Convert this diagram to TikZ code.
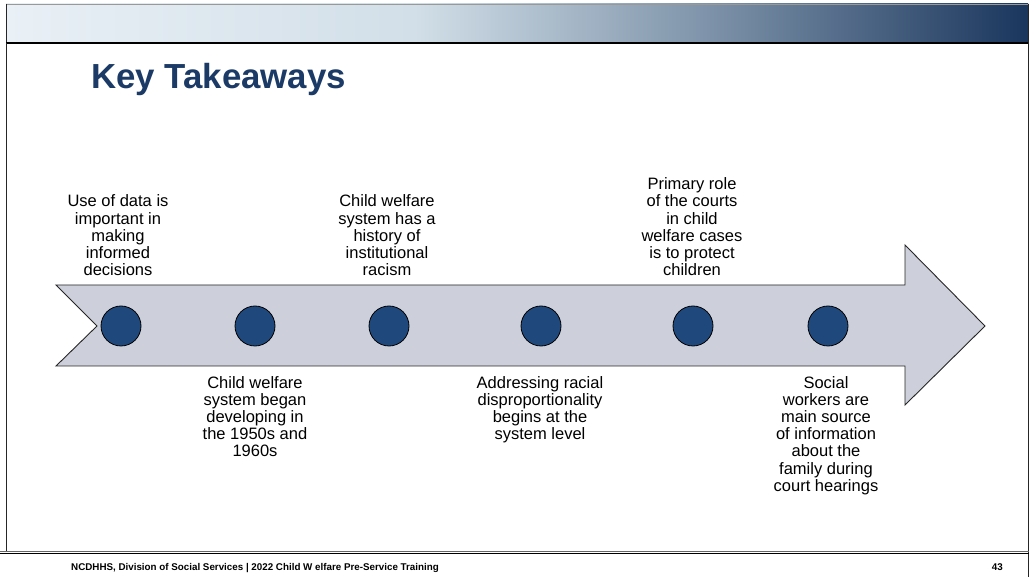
\documentclass[tikz,border=0pt]{standalone}
\usepackage{fontspec}
\setmainfont{Liberation Sans}
\definecolor{navy}{HTML}{1B3A66}
\definecolor{dotblue}{HTML}{1F497D}
\definecolor{arrowgray}{HTML}{CDD0DA}
\definecolor{bandL}{HTML}{E9F0F6}
\definecolor{bandM}{HTML}{D2DFE8}
\definecolor{bandQ}{HTML}{8095AB}
\definecolor{bandR}{HTML}{1A365D}
\pgfdeclarehorizontalshading{band}{100bp}{color(0bp)=(bandL); color(25bp)=(bandL); color(45bp)=(bandM); color(59bp)=(bandQ); color(75bp)=(bandR); color(100bp)=(bandR)}
\tikzset{
  dot/.style={circle, draw=black, fill=dotblue, minimum size=40pt, inner sep=0pt, line width=0.8pt},
  lbl/.style={align=center, font=\fontsize{16.5}{17.2}\selectfont, inner sep=0pt},
  lblabove/.style={lbl, anchor=south},
  lblbelow/.style={lbl, anchor=north},
}
\begin{document}
\begin{tikzpicture}[x=1pt, y=-1pt]
\useasboundingbox (0,0) rectangle (1029,577);
\fill[white] (0,0) rectangle (1029,577);
% top band
\shade[shading=band] (6,4) rectangle (1028,43);
\draw[black!40, line width=0.9pt] (6,4) -- (1028,4);
\draw[black!85, line width=0.9pt] (6,4) -- (6,43);
\draw[black, line width=1.5pt] (6,43) -- (1028,43);
% frame
\draw[black!85, line width=0.8pt] (6,43) -- (6,552);
\draw[black!85, line width=1pt] (1028,4) -- (1028,577);
\draw[black!60, line width=1pt] (0,551.5) -- (1029,551.5);
\draw[black, line width=1pt] (0,553.5) -- (1029,553.5);
% title
\node[anchor=base west, inner sep=0pt, text=navy, font=\fontsize{34.8}{40}\selectfont\bfseries] (title) at (91,89) {Key Takeaways};
% arrow
\draw[fill=arrowgray, draw=black!85, line width=0.9pt]
  (56,285) -- (905,285) -- (905,245) -- (985,326) -- (905,405) -- (905,366) -- (56,366) -- (97,326) -- cycle;
% dots
\node[dot] (d1) at (121,326) {};
\node[dot] (d2) at (255,326) {};
\node[dot] (d3) at (389,326) {};
\node[dot] (d4) at (541,326) {};
\node[dot] (d5) at (693,326) {};
\node[dot] (d6) at (828,326) {};
% labels
\node[lblabove] (t1) at (118,276) {Use of data is\\important in\\making\\informed\\decisions};
\node[lblbelow] (t2) at (255,376) {Child welfare\\system began\\developing in\\the 1950s and\\1960s};
\node[lblabove] (t3) at (387,276) {Child welfare\\system has a\\history of\\institutional\\racism};
\node[lblbelow] (t4) at (540,376) {Addressing racial\\disproportionality\\begins at the\\system level};
\node[lblabove] (t5) at (692,276) {Primary role\\of the courts\\in child\\welfare cases\\is to protect\\children};
\node[lblbelow] (t6) at (826,376) {Social\\workers are\\main source\\of information\\about the\\family during\\court hearings};
% footer
\node[anchor=base west, inner sep=0pt, font=\fontsize{9.8}{11}\selectfont\bfseries] (foot) at (71,570) {NCDHHS, Division of Social Services | 2022 Child W elfare Pre-Service Training};
\node[anchor=base east, inner sep=0pt, font=\fontsize{9.8}{11}\selectfont\bfseries] (page) at (1003,570) {43};
\end{tikzpicture}
\end{document}
